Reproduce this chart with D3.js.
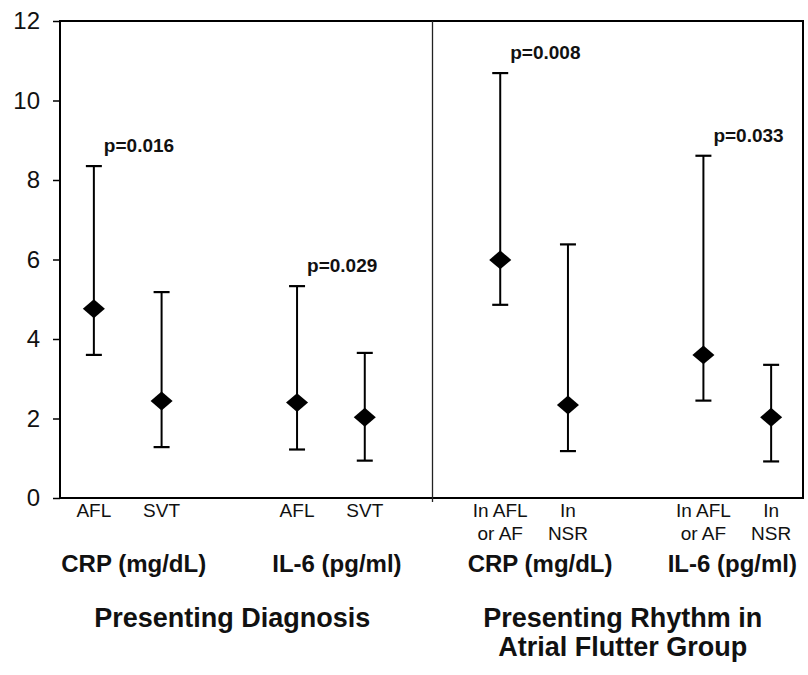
<!DOCTYPE html>
<html>
<head>
<meta charset="utf-8">
<script src="https://cdn.jsdelivr.net/npm/d3@7"></script>
<style>
	body { margin: 0; background: #fff; }
	svg { display: block; font-family: "Liberation Sans", Arial, sans-serif; }
</style>
</head>
<body>
<div id="chart"></div>
<script>

// slot labels along the x axis (blank slots are gaps; slot 5 holds the panel divider)
const categories = ["AFL", "SVT", "", "AFL", "SVT", "", "In AFL\nor AF", "In\nNSR", "", "In AFL\nor AF", "In\nNSR"];

// median and range ends
const medians = [4.76, 2.44, null, 2.40, 2.03, null, 5.99, 2.34, null, 3.60, 2.03];
const upper   = [8.35, 5.18, null, 5.33, 3.65, null, 10.69, 6.38, null, 8.61, 3.35];
const lower   = [3.60, 1.28, null, 1.22, 0.94, null, 4.86, 1.18, null, 2.45, 0.92];

// groups of two slots, with the p value shown above the first one
const groupLabels = ["CRP (mg/dL)", "IL-6 (pg/ml)", "CRP (mg/dL)", "IL-6 (pg/ml)"];
const groupSlots  = [[0, 1], [3, 4], [6, 7], [9, 10]];
const pValues     = ["p=0.016", "p=0.029", "p=0.008", "p=0.033"];

const panelTitles = [["Presenting Diagnosis"], ["Presenting Rhythm in", "Atrial Flutter Group"]];
const panelSlots  = [[0, 4], [6, 10]];
const dividerSlot = 5;

const yTicks = [0, 2, 4, 6, 8, 10, 12];

const width = 808,
	height = 675,
	plot = {left: 60, right: 803, top: 21, bottom: 498};

const svg = d3.select('#chart').append('svg')
	.attr('width', width)
	.attr('height', height);

svg.append('rect')
	.attr('width', width)
	.attr('height', height)
	.attr('fill', '#fff');

const x = d3.scaleBand()
	.domain(d3.range(categories.length))
	.range([plot.left, 805]);

const cx = i => x(i) + x.bandwidth() / 2;

const y = d3.scaleLinear()
	.domain([0, 12])
	.range([plot.bottom, plot.top]);

// frame
svg.append('rect')
	.attr('x', plot.left)
	.attr('y', plot.top)
	.attr('width', plot.right - plot.left)
	.attr('height', plot.bottom - plot.top)
	.attr('fill', 'none')
	.attr('stroke', '#000')
	.attr('stroke-width', 2);

// y axis
const yAxis = svg.append('g')
	.attr('transform', `translate(${plot.left},0)`)
	.call(d3.axisLeft(y).tickValues(yTicks).tickSize(7).tickPadding(13));

yAxis.select('.domain').remove();
yAxis.selectAll('.tick line').attr('stroke', '#000').attr('stroke-width', 1.5);
yAxis.selectAll('.tick text')
	.attr('fill', '#111')
	.style('font-size', '24px')
	.style('font-family', '"Liberation Sans", Arial, sans-serif');

// divider between the two panels
svg.append('line')
	.attr('x1', cx(dividerSlot))
	.attr('x2', cx(dividerSlot))
	.attr('y1', plot.top)
	.attr('y2', plot.bottom + 4)
	.attr('stroke', '#222')
	.attr('stroke-width', 1.3);

// range whiskers
const points = d3.range(categories.length).filter(i => medians[i] != null);
const capHalf = 8;

const marks = svg.append('g').attr('class', 'marks');

marks.selectAll('.whisker')
	.data(points)
	.enter().append('line')
	.attr('class', 'whisker')
	.attr('x1', cx).attr('x2', cx)
	.attr('y1', i => y(lower[i]))
	.attr('y2', i => y(upper[i]))
	.attr('stroke', '#000')
	.attr('stroke-width', 2);

[upper, lower].forEach(arr => {
	marks.selectAll(null)
		.data(points)
		.enter().append('line')
		.attr('x1', i => cx(i) - capHalf)
		.attr('x2', i => cx(i) + capHalf)
		.attr('y1', i => y(arr[i]))
		.attr('y2', i => y(arr[i]))
		.attr('stroke', '#000')
		.attr('stroke-width', 2.2);
});

// diamonds, a bit wider than tall like the original
const diamond = {
	draw(ctx, size) {
		const h = Math.sqrt(size) / 2;
		ctx.moveTo(0, -h * 0.9);
		ctx.lineTo(h * 1.05, 0);
		ctx.lineTo(0, h * 0.9);
		ctx.lineTo(-h * 1.05, 0);
		ctx.closePath();
	}
};

marks.selectAll('.median')
	.data(points)
	.enter().append('path')
	.attr('class', 'median')
	.attr('d', d3.symbol().type(diamond).size(441))
	.attr('transform', i => `translate(${cx(i)},${y(medians[i])})`)
	.attr('fill', '#000');

// p values
svg.selectAll('.pval')
	.data(groupSlots)
	.enter().append('text')
	.attr('class', 'pval')
	.attr('x', g => cx(g[0]) + 10)
	.attr('y', g => y(upper[g[0]]) - 14)
	.style('font-size', '19px')
	.style('font-weight', 'bold')
	.attr('fill', '#111')
	.text((g, i) => pValues[i]);

// category labels
const catText = svg.selectAll('.cat')
	.data(d3.range(categories.length).filter(i => categories[i] !== ''))
	.enter().append('text')
	.attr('class', 'cat')
	.attr('text-anchor', 'middle')
	.style('font-size', '19px')
	.attr('fill', '#111');

catText.selectAll('tspan')
	.data(i => categories[i].split('\n').map(t => ({t, i})))
	.enter().append('tspan')
	.attr('x', d => cx(d.i))
	.attr('y', (d, j) => 517 + j * 22.6)
	.text(d => d.t);

// group labels
svg.selectAll('.group')
	.data(groupSlots)
	.enter().append('text')
	.attr('class', 'group')
	.attr('text-anchor', 'middle')
	.attr('y', 572)
	.style('font-size', '24px')
	.style('font-weight', 'bold')
	.attr('fill', '#111')
	.text((g, i) => groupLabels[i])
	.attr('x', function(g) {
		const c = (cx(g[0]) + cx(g[1])) / 2 + 6;
		const w = this.getComputedTextLength();
		return Math.min(c, width - 11 - w / 2);
	});

// panel titles
const titles = svg.selectAll('.title')
	.data(panelSlots)
	.enter().append('text')
	.attr('class', 'title')
	.attr('text-anchor', 'middle')
	.style('font-size', '27px')
	.style('font-weight', 'bold')
	.attr('fill', '#111');

titles.selectAll('tspan')
	.data((p, i) => panelTitles[i].map(t => ({t, p})))
	.enter().append('tspan')
	.attr('x', d => (cx(d.p[0]) + cx(d.p[1])) / 2 + (d.p[0] === 0 ? 3 : -13))
	.attr('y', (d, j) => 627 + j * 29)
	.text(d => d.t);

</script>
</body>
</html>
